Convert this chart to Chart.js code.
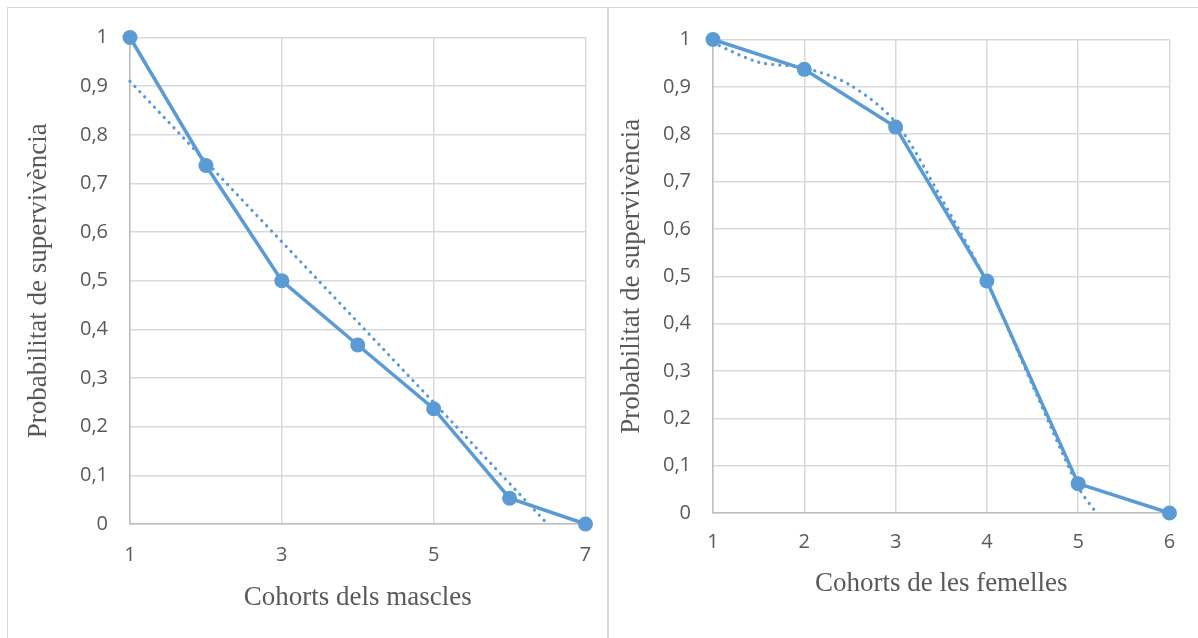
<!DOCTYPE html>
<html>
<head>
<meta charset="utf-8">
<script src="https://cdn.jsdelivr.net/npm/chart.js@4/dist/chart.umd.min.js"></script>
<style>
  html, body { margin: 0; padding: 0; background: #fff; overflow: hidden; width: 1198px; height: 638px; }
  .frame { position: absolute; box-sizing: border-box; border: 1px solid #d9d9d9; }
  .plot { position: absolute; }
</style>
</head>
<body>
<div class="frame" style="left:7px; top:7px; width:601px; height:700px;"></div>
<div class="frame" style="left:608px; top:7px; width:700px; height:700px;"></div>
<div class="plot" style="left:8px; top:8px; width:598px; height:630px;"><canvas id="males-chart"></canvas></div>
<div class="plot" style="left:609px; top:8px; width:589px; height:630px;"><canvas id="females-chart"></canvas></div>
<script>
// values
var maleCohorts = [1, 2, 3, 4, 5, 6, 7];
var maleSurvival = [1, 0.737, 0.5, 0.368, 0.237, 0.053, 0];
var maleTrendX = [1, 3, 5, 6.5];
var maleTrendY = [0.91, 0.58, 0.25, 0];

var femaleCohorts = [1, 2, 3, 4, 5, 6];
var femaleSurvival = [1, 0.937, 0.815, 0.49, 0.062, 0];
var femaleTrendX = [1, 1.5, 2, 2.5, 3, 3.5, 4, 4.5, 5, 5.2];
var femaleTrendY = [0.993, 0.952, 0.94, 0.904, 0.825, 0.665, 0.487, 0.27, 0.055, 0];

var yTickLabels = ['0', '0,1', '0,2', '0,3', '0,4', '0,5', '0,6', '0,7', '0,8', '0,9', '1'];

var BLUE = '#5b9bd5';
var GRID = '#d9d9d9';
var AXIS = '#bfbfbf';
var TEXT = '#595959';

function toPoints(xs, ys) {
  return xs.map(function (x, i) { return { x: x, y: ys[i] }; });
}

// drop the label overflow padding so the layout padding alone sets the plot box
function noLabelPadding(s) {
  s.paddingTop = 0;
  s.paddingBottom = 0;
  s.paddingLeft = 0;
  s.paddingRight = 0;
}

function makeChart(id, cfg) {
  return new Chart(document.getElementById(id), {
    type: 'line',
    data: {
      datasets: [{
        data: toPoints(cfg.trendX, cfg.trendY),
        borderColor: BLUE,
        borderWidth: 3.2,
        borderDash: [0.1, 7],
        borderCapStyle: 'round',
        pointRadius: 0,
        tension: cfg.tension,
        clip: false
      }, {
        data: toPoints(cfg.cohorts, cfg.survival),
        borderColor: BLUE,
        backgroundColor: BLUE,
        borderWidth: 3.5,
        pointRadius: 7.5,
        pointBackgroundColor: BLUE,
        pointBorderColor: BLUE,
        pointBorderWidth: 0,
        tension: 0,
        clip: false
      }]
    },
    options: {
      responsive: true,
      maintainAspectRatio: false,
      animation: false,
      events: [],
      layout: { padding: { top: cfg.padTop, right: cfg.padRight, left: 0, bottom: 0 } },
      plugins: { legend: { display: false }, tooltip: { enabled: false } },
      scales: {
        x: {
          type: 'linear',
          min: cfg.cohorts[0],
          max: cfg.cohorts[cfg.cohorts.length - 1],
          afterFit: function (s) { s.height = cfg.xAxisHeight; noLabelPadding(s); },
          grid: { color: GRID, lineWidth: 1.5, drawTicks: false },
          border: { color: AXIS, width: 1.5 },
          ticks: {
            stepSize: cfg.xStep,
            padding: cfg.xTickPad,
            color: TEXT,
            font: { family: 'Open Sans', size: 20 }
          },
          title: {
            display: true,
            text: cfg.xTitle,
            color: TEXT,
            padding: { top: 0, bottom: cfg.xTitlePad },
            font: { family: 'Liberation Serif', size: 27 }
          }
        },
        y: {
          min: 0,
          max: 1,
          afterFit: function (s) { s.width = cfg.yAxisWidth; noLabelPadding(s); },
          grid: { color: GRID, lineWidth: 1.5, drawTicks: false },
          border: { color: AXIS, width: 1.5 },
          ticks: {
            stepSize: 0.1,
            padding: 22,
            color: TEXT,
            font: { family: 'Open Sans', size: 20 },
            callback: function (v, i) { return yTickLabels[i]; }
          },
          title: {
            display: true,
            text: 'Probabilitat de supervivència',
            color: TEXT,
            padding: { top: cfg.yTitlePad, bottom: 0 },
            font: { family: 'Liberation Serif', size: 27 }
          }
        }
      }
    }
  });
}

makeChart('males-chart', {
  cohorts: maleCohorts, survival: maleSurvival,
  trendX: maleTrendX, trendY: maleTrendY, tension: 0,
  xStep: 2, xTitle: 'Cohorts dels mascles',
  padTop: 29.5, padRight: 20.5, xAxisHeight: 114, yAxisWidth: 122,
  xTickPad: 19, xTitlePad: 23.4, yTitlePad: 14.4
});

makeChart('females-chart', {
  cohorts: femaleCohorts, survival: femaleSurvival,
  trendX: femaleTrendX, trendY: femaleTrendY, tension: 0.3,
  xStep: 1, xTitle: 'Cohorts de les femelles',
  padTop: 31.5, padRight: 28.5, xAxisHeight: 125, yAxisWidth: 104,
  xTickPad: 17, xTitlePad: 37.4, yTitlePad: 6.9
});
</script>
</body>
</html>
